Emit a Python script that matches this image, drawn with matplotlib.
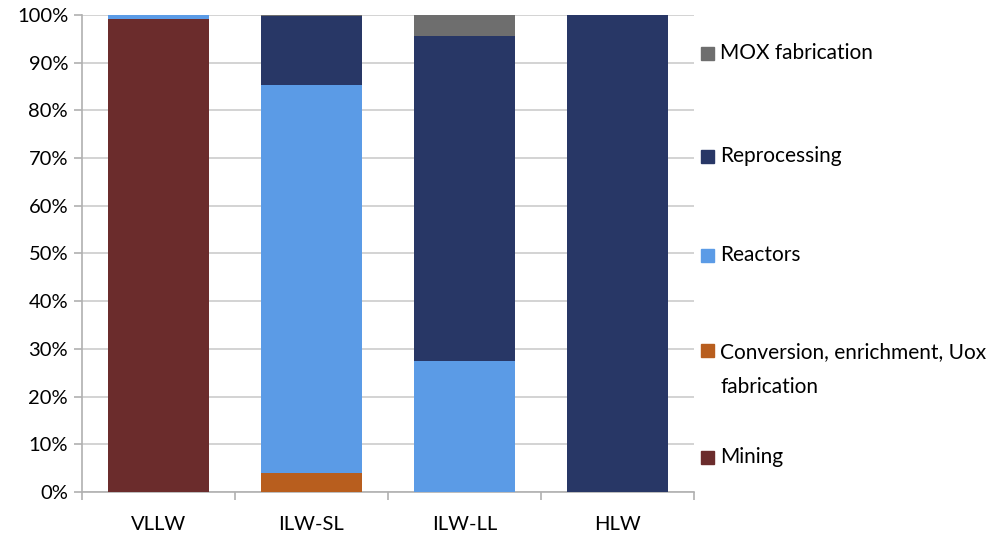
import matplotlib
matplotlib.use("Agg")
import matplotlib.pyplot as plt
from matplotlib.patches import Rectangle
from matplotlib.ticker import FixedLocator, PercentFormatter
import numpy as np

plt.rcParams['font.family'] = ['Lato', 'DejaVu Sans']

categories = ["VLLW", "ILW-SL", "ILW-LL", "HLW"]
series_names = ["Mining", "Conversion, enrichment, Uox\nfabrication", "Reactors",
                "Reprocessing", "MOX fabrication"]
mining = [99.2, 0.0, 0.0, 0.0]
conversion = [0.0, 4.0, 0.0, 0.0]
reactors = [0.8, 81.4, 27.4, 0.0]
reprocessing = [0.0, 14.3, 68.1, 100.0]
mox = [0.0, 0.3, 4.5, 0.0]
colors = ["#6B2C2C", "#B85E1E", "#5B9BE6", "#283766", "#6E6E6E"]

W, H = 996, 536
fig = plt.figure(figsize=(W / 100, H / 100), dpi=100)
ax = fig.add_axes([82 / W, 1 - 492 / H, (694 - 82) / W, (492 - 15) / H])

x = np.arange(len(categories))
bottom = np.zeros(len(categories))
for vals, c in zip([mining, conversion, reactors, reprocessing, mox], colors):
    ax.bar(x, vals, bottom=bottom, width=0.66, color=c, zorder=3)
    bottom += np.array(vals)

ax.set_xlim(-0.5, len(categories) - 0.5)
ax.set_ylim(0, 100)
ax.set_yticks(np.arange(0, 101, 10))
ax.yaxis.set_major_formatter(PercentFormatter(decimals=0))
ax.grid(axis='y', color='#cccccc', linewidth=1.2, zorder=0)
ax.set_xticks(x)
ax.set_xticklabels(categories, fontsize=14.5)
ax.xaxis.set_minor_locator(FixedLocator(np.arange(-0.5, len(categories), 1)))
ax.tick_params(axis='x', which='major', length=0, pad=17)
ax.tick_params(axis='x', which='minor', length=6, color='#b0b0b0', width=1.2)
ax.tick_params(axis='y', length=6, color='#b0b0b0', width=1.2, labelsize=14.5, pad=4)
for s in ['top', 'right']:
    ax.spines[s].set_visible(False)
for s in ['left', 'bottom']:
    ax.spines[s].set_color('#b0b0b0')
    ax.spines[s].set_linewidth(1.2)

# legend (manual, right side, reversed order)
legend_y = [53, 156, 255, 350, 457]
legend_labels = list(reversed(series_names))
legend_colors = list(reversed(colors))
for yy, lab, col in zip(legend_y, legend_labels, legend_colors):
    fig.patches.append(Rectangle((701 / W, 1 - (yy + 7) / H), 13 / W, 13 / H,
                                 transform=fig.transFigure, color=col))
    if '\n' in lab:
        fig.text(720 / W, 1 - (yy - 8) / H, lab, fontsize=15, va='top',
                 ha='left', linespacing=1.95)
    else:
        fig.text(720 / W, 1 - yy / H, lab, fontsize=15, va='center', ha='left')

fig.savefig("out.png", dpi=100)
